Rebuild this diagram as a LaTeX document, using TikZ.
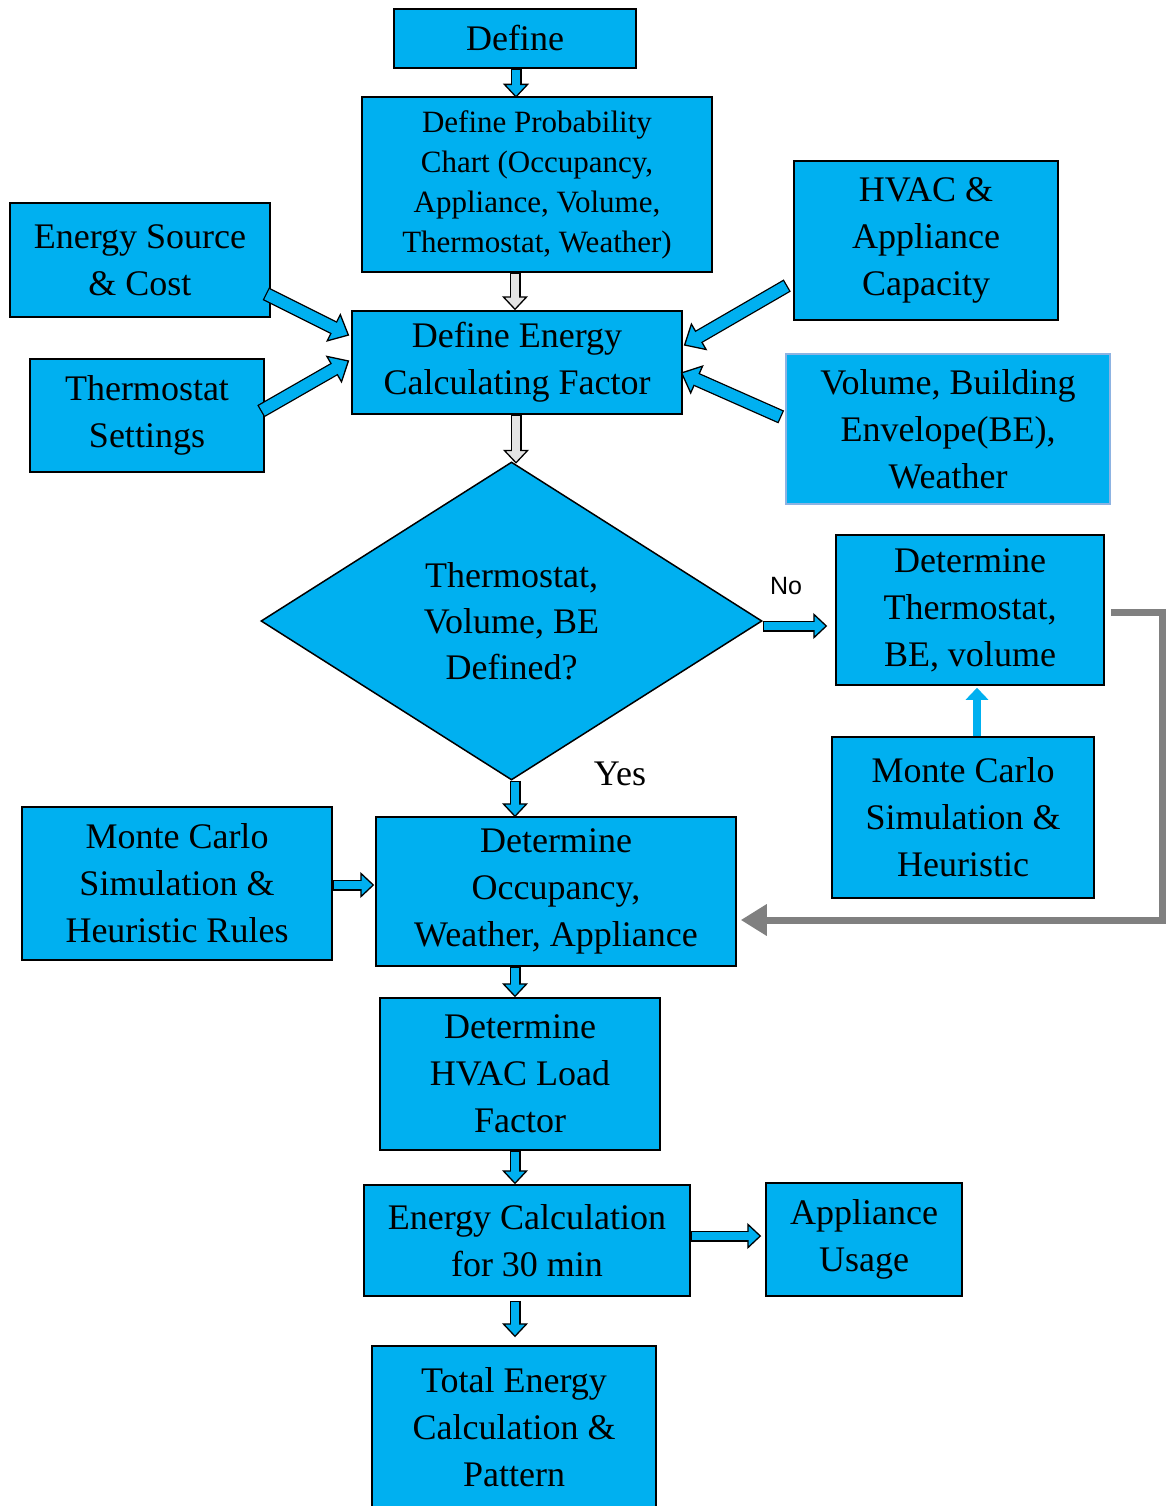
\documentclass[tikz,border=0pt]{standalone}
\usepackage{fontspec}
\setmainfont{Liberation Serif}
\newfontfamily\arialfont{Liberation Sans}
\usetikzlibrary{arrows.meta,shapes.geometric,calc}
\definecolor{cyanb}{HTML}{00B0F0}
\definecolor{graya}{HTML}{808080}
\definecolor{hollow}{HTML}{E4E4E4}
\definecolor{lightedge}{HTML}{8DB3E2}
\begin{document}
\begin{tikzpicture}[x=1pt,y=-1pt,
  box/.style={draw=black, line width=1.5pt, fill=cyanb, inner sep=0pt, align=center,
     font=\fontsize{36}{47}\selectfont},
  barrow/.style={line width=11pt, draw=black,
     -{Triangle[length=14pt,width=26pt,line width=1.3pt,fill=#1]},
     postaction={draw=#1, line width=8.4pt, -, shorten >=11pt, shorten <=1.3pt}},
  barrow/.default=cyanb,
  bigarrow/.style={line width=14pt, draw=black,
     -{Triangle[length=18pt,width=32pt,line width=1.3pt,fill=cyanb]},
     postaction={draw=cyanb, line width=11.4pt, -, shorten >=15pt, shorten <=1.3pt}},
  plainarrow/.style={line width=8pt, draw=cyanb, -{Triangle[length=12pt,width=22pt]}},
  grayline/.style={line width=7pt, draw=graya, line join=miter,
     -{Triangle[length=26pt,width=30pt]}}
]
\useasboundingbox (0,0) rectangle (1165,1506);

% nodes
\node[box, minimum width=242pt, minimum height=59pt] (define) at (515,38.5) {Define};
\node[box, minimum width=350pt, minimum height=175pt, font=\fontsize{31}{40}\selectfont] (defprob) at (537,184.5)
  {Define Probability\\Chart (Occupancy,\\Appliance, Volume,\\Thermostat, Weather)};
\node[box, minimum width=260pt, minimum height=114pt] (esrc) at (140,260) {Energy Source\\\& Cost};
\node[box, minimum width=234pt, minimum height=113pt] (tset) at (147,415.5) {Thermostat\\Settings};
\node[box, minimum width=330pt, minimum height=103pt] (defen) at (517,362.5) {Define Energy\\Calculating Factor};
\node[box, minimum width=264pt, minimum height=159pt] (hvac) at (926,240.5) {HVAC \&\\Appliance\\Capacity};
\node[box, draw=lightedge, minimum width=324pt, minimum height=150pt] (vol) at (948,429)
  {Volume, Building\\Envelope(BE),\\Weather};
\node[diamond, draw=black, line width=1.5pt, fill=cyanb, inner sep=0pt, align=center,
  minimum width=501pt, minimum height=318pt, font=\fontsize{36}{46}\selectfont] (dia) at (511.5,621)
  {Thermostat,\\Volume, BE\\Defined?};
\node[box, minimum width=268pt, minimum height=150pt] (detth) at (970,610) {Determine\\Thermostat,\\BE, volume};
\node[box, minimum width=262pt, minimum height=161pt] (mcr) at (963,817.5) {Monte Carlo\\Simulation \&\\Heuristic};
\node[box, minimum width=310pt, minimum height=153pt] (mcl) at (177,883.5) {Monte Carlo\\Simulation \&\\Heuristic Rules};
\node[box, minimum width=360pt, minimum height=149pt] (detocc) at (556,891.5) {Determine\\Occupancy,\\Weather, Appliance};
\node[box, minimum width=280pt, minimum height=152pt] (dethvac) at (520,1074) {Determine\\HVAC Load\\Factor};
\node[box, minimum width=326pt, minimum height=111pt] (ecalc) at (527,1240.5) {Energy Calculation\\for 30 min};
\node[box, minimum width=196pt, minimum height=113pt] (appu) at (864,1239.5) {Appliance\\Usage};
\node[box, minimum width=284pt, minimum height=162pt] (total) at (514,1427)
  {Total Energy\\Calculation \&\\Pattern};

% labels
\node[font=\arialfont\fontsize{25}{30}\selectfont] (nolbl) at (786,586) {No};
\node[font=\fontsize{36}{44}\selectfont] (yeslbl) at (620,774) {Yes};

% connectors
\draw[barrow] ($(define.south)+(1,0)$) -- ($(define.south)+(1,29)$);
\draw[barrow=hollow] (defprob.south -| define.south) -- (defen.north -| define.south);
\draw[bigarrow] ($(esrc.south east)+(-5,-24)$) -- ($(defen.west)+(-2,-27)$);
\draw[bigarrow] ($(tset.north east)+(-4,53)$) -- ($(defen.west)+(-2,-2)$);
\draw[bigarrow] ($(hvac.west)+(-6,45)$) -- ($(defen.east)+(1,-17)$);
\draw[bigarrow] ($(vol.west)+(-4,-12)$) -- ($(defen.east)+(-2,10)$);
\draw[barrow=hollow] ($(defen.south)+(-1,0)$) -- ($(defen.south)+(-1,49)$);
\draw[barrow] (dia.east |- 0,626) -- ($(detth.west |- 0,626)+(-8,0)$);
\draw[plainarrow] ($(mcr.north)+(14,0)$) -- ($(detth.south)+(7,2)$);
\draw[grayline] ($(detth.east)+(6,2)$) -- ++(52,0) |- ($(detocc.east)+(4,28.5)$);
\draw[barrow] (dia.south -| define.south) -- ($(detocc.north -| define.south)+(0,1)$);
\draw[barrow] (mcl.east |- 0,885) -- ($(detocc.west |- 0,885)+(-1,0)$);
\draw[barrow] (detocc.south -| define.south) -- (dethvac.north -| define.south);
\draw[barrow] (dethvac.south -| define.south) -- (ecalc.north -| define.south);
\draw[barrow] (ecalc.east |- 0,1236) -- ($(appu.west |- 0,1236)+(-4,0)$);
\draw[barrow] ($(ecalc.south -| define.south)+(0,4)$) -- ($(total.north -| define.south)+(0,-8)$);
\end{tikzpicture}
\end{document}
